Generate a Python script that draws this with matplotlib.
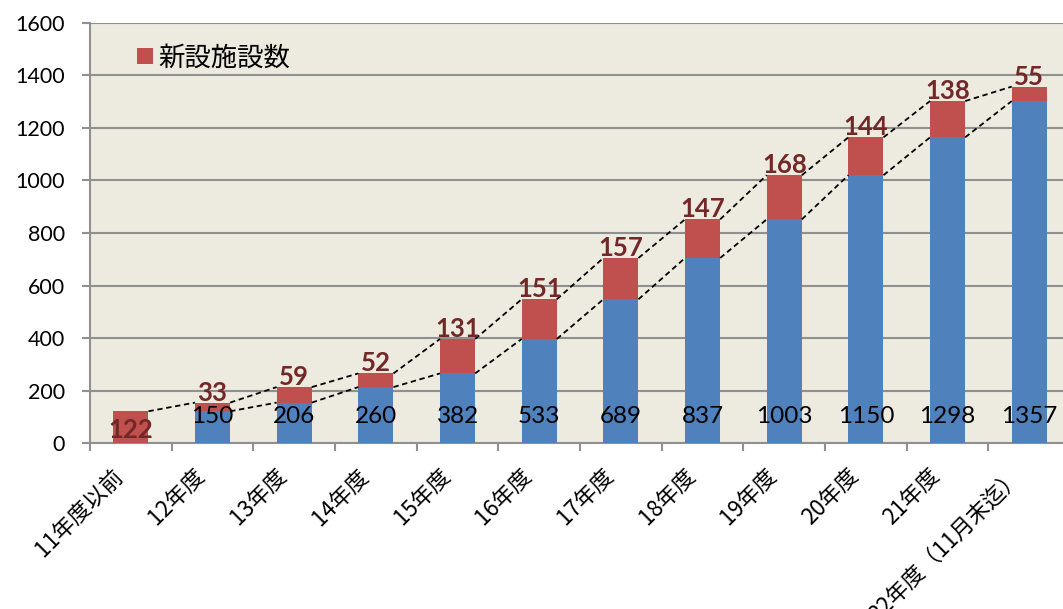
import matplotlib
matplotlib.use("Agg")
import matplotlib.pyplot as plt
from matplotlib.patches import Patch

categories = ["11年度以前", "12年度", "13年度", "14年度", "15年度", "16年度",
              "17年度", "18年度", "19年度", "20年度", "21年度", "22年度（11月末迄）"]
# blue base (cumulative before the year) and red new facilities
previous_total = [0, 122, 155, 214, 266, 397, 548, 705, 852, 1020, 1164, 1302]
new_facilities = [122, 33, 59, 52, 131, 151, 157, 147, 168, 144, 138, 55]
total_labels = [None, 150, 206, 260, 382, 533, 689, 837, 1003, 1150, 1298, 1357]
y_ticks = [0, 200, 400, 600, 800, 1000, 1200, 1400, 1600]

BLUE = "#4F81BD"
RED = "#C0504D"
DARKRED = "#722828"
GRID = "#909090"
BG = "#EDEADF"

plt.rcParams['font.family'] = ['Lato', 'Noto Sans CJK JP', 'DejaVu Sans']
CJK = ['Noto Sans CJK JP', 'DejaVu Sans']

fig = plt.figure(figsize=(10.63, 6.09), dpi=100)
ax = fig.add_axes([0.0847, 0.2720, 0.922, 0.6907])
ax.set_facecolor(BG)

x = list(range(len(categories)))
w = 0.43
ax.bar(x, previous_total, width=w, color=BLUE, zorder=3)
ax.bar(x, new_facilities, width=w, bottom=previous_total, color=RED, zorder=3)

tops = [b + r for b, r in zip(previous_total, new_facilities)]

# series lines
for i in range(len(x) - 1):
    ax.plot([i + w / 2, i + 1 - w / 2], [tops[i], tops[i + 1]], color='black',
            lw=1.3, linestyle=(0, (3, 2)), zorder=4)
    if previous_total[i] > 0:
        ax.plot([i + w / 2, i + 1 - w / 2], [previous_total[i], previous_total[i + 1]],
                color='black', lw=1.3, linestyle=(0, (3, 2)), zorder=4)

# labels
for i in x:
    if i == 0:
        ax.text(i, 52, str(new_facilities[i]), ha='center', va='center',
                fontsize=18.5, fontweight='bold', color=DARKRED, zorder=5)
    else:
        ax.annotate(str(new_facilities[i]), xy=(i, tops[i]), xytext=(0, 1.5),
                    textcoords='offset points', ha='center', va='baseline',
                    fontsize=18.5, fontweight='bold', color=DARKRED, zorder=5)
    if total_labels[i] is not None:
        ax.text(i, 103, str(total_labels[i]), ha='center', va='center',
                fontsize=17.5, color='black', zorder=5)

ax.set_xlim(-0.5, len(x) - 0.5)
ax.set_ylim(0, 1600)
ax.set_yticks(y_ticks)
ax.set_yticklabels([str(v) for v in y_ticks], fontsize=15.5)
ax.yaxis.grid(True, color=GRID, lw=1.5, zorder=0)
ax.set_axisbelow(True)

ax.set_xticks(x)
ax.set_xticklabels([])
for i, cat in enumerate(categories):
    ax.annotate(cat, xy=(i, 0), xycoords=('data', 'axes fraction'),
                xytext=(-8, -21), textcoords='offset points',
                rotation=45, ha='right', va='center', rotation_mode='anchor',
                fontsize=16, family=CJK, annotation_clip=False)
ax.set_xticks([i - 0.5 for i in range(len(x) + 1)], minor=True)
ax.tick_params(axis='x', which='major', length=0)
ax.tick_params(axis='x', which='minor', length=6, width=1.5, color=GRID)
ax.tick_params(axis='y', length=6, width=1.5, color=GRID, pad=12)

for s in ['top', 'right']:
    ax.spines[s].set_visible(False)
for s in ['left', 'bottom']:
    ax.spines[s].set_color(GRID)
    ax.spines[s].set_linewidth(1.5)

leg = ax.legend(handles=[Patch(facecolor=RED)], labels=["新設施設数"],
                loc='upper left', bbox_to_anchor=(0.024, 1.005), frameon=False,
                prop={'family': CJK, 'size': 19}, handlelength=0.6, handleheight=0.6,
                handletextpad=0.2)

fig.savefig("out.png", dpi=100)
